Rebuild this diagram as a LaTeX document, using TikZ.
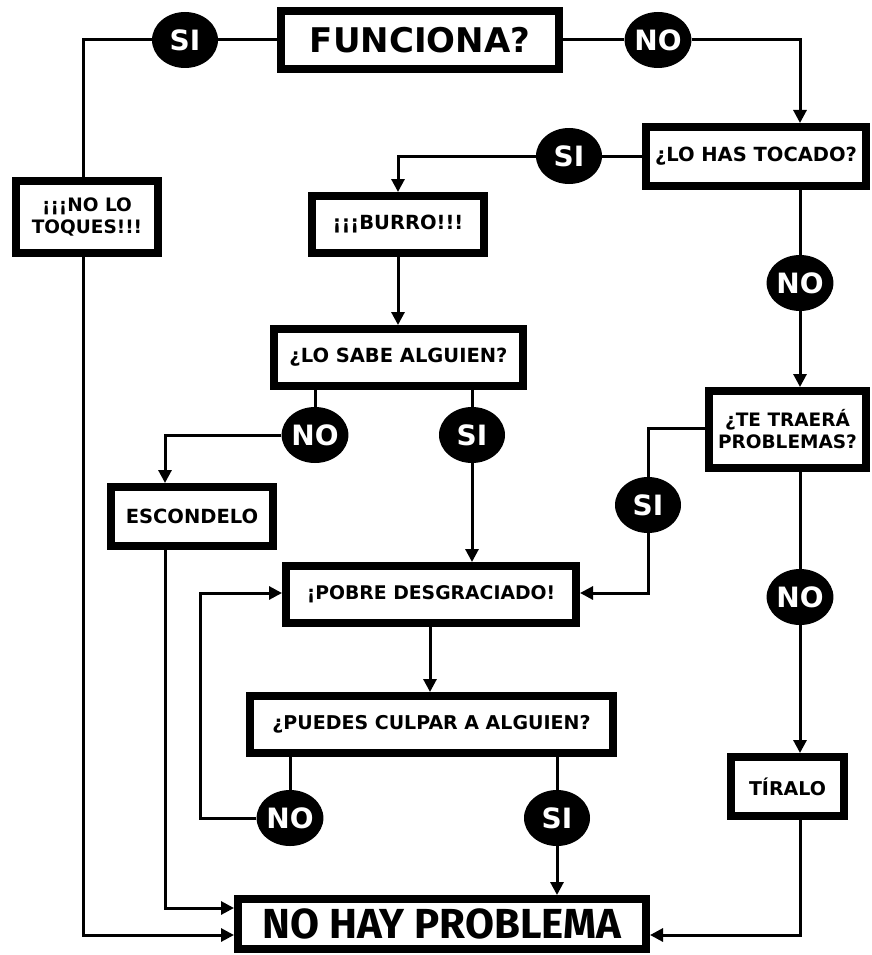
\documentclass[tikz,border=0pt]{standalone}
\usepackage{fontspec}
\setmainfont{DejaVu Sans}
\newfontfamily\bigfont{Fira Sans}
\usetikzlibrary{arrows.meta,shapes.geometric}
\tikzset{
  box/.style={draw=black, line width=8pt, fill=white, rectangle, align=center,
    font=\bfseries\fontsize{19.5}{23}\selectfont, inner sep=0pt},
  ans/.style={ellipse, fill=black, text=white, minimum width=66pt, minimum height=56pt,
    inner sep=0pt, font=\bfseries\fontsize{28}{28}\selectfont},
  conn/.style={line width=3pt, line join=miter},
  arr/.style={conn, -{Triangle[length=13pt,width=13pt]}}
}
\begin{document}
\begin{tikzpicture}[x=1pt,y=-1pt]
\useasboundingbox (0,0) rectangle (871,955);
% boxes (minimum size = outer size - line width)
\node[box, minimum width=278pt, minimum height=58pt, font=\bfseries\fontsize{34}{34}\selectfont] (func) at (420,40) {FUNCIONA?};
\node[box, minimum width=220pt, minimum height=59pt] (lohas) at (756,156.5) {¿LO HAS TOCADO?};
\node[box, minimum width=142pt, minimum height=72pt, font=\bfseries\fontsize{18.5}{22}\selectfont] (notoq) at (87,217) {¡¡¡NO LO\\TOQUES!!!};
\node[box, minimum width=172pt, minimum height=57pt] (burro) at (398,224.5) {¡¡¡BURRO!!!};
\node[box, minimum width=249pt, minimum height=57pt] (losabe) at (398.5,357.5) {¿LO SABE ALGUIEN?};
\node[box, minimum width=157pt, minimum height=77pt, font=\bfseries\fontsize{18.5}{22}\selectfont] (tetrae) at (787.5,429.5) {¿TE TRAERÁ\\PROBLEMAS?};
\node[box, minimum width=162pt, minimum height=59pt] (escond) at (192,516.5) {ESCONDELO};
\node[box, minimum width=290pt, minimum height=57pt, font=\bfseries\fontsize{18.8}{22}\selectfont] (pobre) at (431,594.5) {¡POBRE DESGRACIADO!};
\node[box, minimum width=363pt, minimum height=57pt, font=\bfseries\fontsize{19}{22}\selectfont] (puedes) at (431.5,724.5) {¿PUEDES CULPAR A ALGUIEN?};
\node[box, minimum width=113pt, minimum height=59pt, font=\bfseries\fontsize{19}{22}\selectfont] (tiralo) at (787.5,786.5) {TÍRALO};
\node[box, minimum width=408pt, minimum height=50pt, font=\bigfont\bfseries\fontsize{42}{42}\selectfont] (nohay) at (442,924) {NO HAY PROBLEMA};
% answer ellipses
\node[ans] (s1) at (185,40) {SI};
\node[ans] (n1) at (658,40) {NO};
\node[ans] (s2) at (569,156) {SI};
\node[ans] (n2) at (800,283) {NO};
\node[ans] (n3) at (315,435) {NO};
\node[ans] (s3) at (472,435) {SI};
\node[ans] (s4) at (648,505) {SI};
\node[ans] (n4) at (800,597) {NO};
\node[ans] (n5) at (290,818) {NO};
\node[ans] (s5) at (557,818) {SI};
% helper coordinates
\coordinate (cL) at (83,40);
\coordinate (cLb) at (83,935);
\coordinate (cR) at (800,40);
\coordinate (cB) at (398,156);
\coordinate (cE) at (165,435);
\coordinate (cEb) at (165,908);
\coordinate (cT) at (648,428);
\coordinate (cP) at (648,593);
\coordinate (cLoop) at (200,818);
\coordinate (cLoopT) at (200,593);
\coordinate (cRb) at (800,935);
\coordinate (xPob) at (430,0);
% connectors
\draw[conn] (func.west) -- (s1.east);
\draw[conn] (s1.west) -- (cL) -- (notoq.north -| cL);
\draw[arr] (notoq.south -| cL) -- (cLb) -- (nohay.west |- cLb);
\draw[conn] (func.east) -- (n1.west);
\draw[arr] (n1.east) -- (cR) -- (lohas.north -| cR);
\draw[conn] (lohas.west |- s2) -- (s2.east);
\draw[arr] (s2.west) -- (cB) -- (burro.north -| cB);
\draw[arr] (burro.south -| cB) -- (losabe.north -| cB);
\draw[conn] (losabe.south -| n3) -- (n3.north);
\draw[arr] (n3.west) -- (cE) -- (escond.north -| cE);
\draw[conn] (losabe.south -| s3) -- (s3.north);
\draw[arr] (s3.south) -- (pobre.north -| s3);
\draw[conn] (lohas.south -| n2) -- (n2.north);
\draw[arr] (n2.south) -- (tetrae.north -| n2);
\draw[conn] (tetrae.west |- cT) -- (cT) -- (s4.north);
\draw[arr] (s4.south) -- (cP) -- (pobre.east |- cP);
\draw[conn] (tetrae.south -| n4) -- (n4.north);
\draw[arr] (n4.south) -- (tiralo.north -| n4);
\draw[arr] (tiralo.south -| n4) -- (cRb) -- (nohay.east |- cRb);
\draw[arr] (escond.south -| cE) -- (cEb) -- (nohay.west |- cEb);
\draw[arr] (pobre.south -| xPob) -- (puedes.north -| xPob);
\draw[conn] (puedes.south -| n5) -- (n5.north);
\draw[arr] (n5.west) -- (cLoop) -- (cLoopT) -- (pobre.west |- cLoopT);
\draw[conn] (puedes.south -| s5) -- (s5.north);
\draw[arr] (s5.south) -- (nohay.north -| s5);
\end{tikzpicture}
\end{document}
